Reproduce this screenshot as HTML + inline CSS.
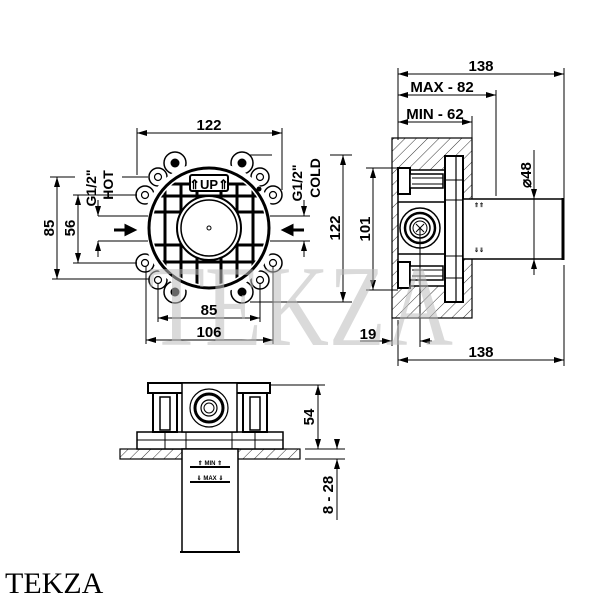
<!DOCTYPE html>
<html><head><meta charset="utf-8"><style>
html,body{margin:0;padding:0;background:#fff;}
svg{display:block;}
text{font-family:"Liberation Sans",Arial,sans-serif;font-weight:bold;fill:#000;}
</style></head><body>
<svg width="600" height="600" viewBox="0 0 600 600" xmlns="http://www.w3.org/2000/svg">
<defs>
<marker id="a" viewBox="0 0 10 6" refX="10" refY="3" markerWidth="10" markerHeight="6" orient="auto-start-reverse" markerUnits="userSpaceOnUse"><path d="M0,0 L10,3 L0,6 z" fill="#000"/></marker>
<pattern id="h" width="8" height="8" patternUnits="userSpaceOnUse" patternTransform="rotate(45)"><line x1="0" y1="0" x2="0" y2="8" stroke="#000" stroke-width="0.8"/></pattern>
<clipPath id="cc"><circle cx="209" cy="228" r="57"/></clipPath>
</defs>

<g stroke="#000" fill="none" stroke-width="1">
<!-- ===== FRONT VIEW ===== -->
<g stroke-width="1.5" fill="#fff">
<circle cx="175" cy="163" r="11"/><circle cx="242" cy="163" r="11"/>
<circle cx="158" cy="177" r="9"/><circle cx="260" cy="177" r="9"/>
<circle cx="145" cy="195" r="9"/><circle cx="273" cy="195" r="9"/>
<circle cx="145" cy="263" r="9"/><circle cx="273" cy="263" r="9"/>
<circle cx="158" cy="280" r="9"/><circle cx="260" cy="280" r="9"/>
<circle cx="175" cy="292" r="11"/><circle cx="242" cy="292" r="11"/>
<circle cx="209" cy="228" r="66" stroke="none"/>
</g>
<g stroke-width="1.2">
<circle cx="158" cy="177" r="3.5"/><circle cx="260" cy="177" r="3.5"/>
<circle cx="145" cy="195" r="3.5"/><circle cx="273" cy="195" r="3.5"/>
<circle cx="145" cy="263" r="3.5"/><circle cx="273" cy="263" r="3.5"/>
<circle cx="158" cy="280" r="3.5"/><circle cx="260" cy="280" r="3.5"/>
</g>
<g fill="#000" stroke="none">
<circle cx="175" cy="163" r="4.5"/><circle cx="242" cy="163" r="4.5"/>
<circle cx="175" cy="292" r="4.5"/><circle cx="242" cy="292" r="4.5"/>
<circle cx="259" cy="189" r="2.5"/>
</g>
<circle cx="209" cy="228" r="60" stroke-width="3"/>
<g clip-path="url(#cc)" stroke-width="3">
<line x1="165" y1="150" x2="165" y2="300"/><line x1="181" y1="185" x2="181" y2="300"/><line x1="197" y1="185" x2="197" y2="300"/>
<line x1="221" y1="185" x2="221" y2="300"/><line x1="237" y1="185" x2="237" y2="300"/><line x1="253" y1="150" x2="253" y2="300"/>
<line x1="140" y1="196" x2="280" y2="196"/><line x1="140" y1="212" x2="280" y2="212"/>
<line x1="140" y1="245" x2="280" y2="245"/><line x1="140" y1="262" x2="280" y2="262"/>
<line x1="140" y1="184" x2="280" y2="184"/>
</g>
<circle cx="209" cy="228" r="32" fill="#fff" stroke-width="2"/>
<circle cx="209" cy="228" r="28" stroke-width="1.5"/>
<circle cx="209" cy="228" r="2"/>
<rect x="190" y="175" width="38" height="16" rx="2" fill="#fff" stroke-width="2"/>
<text x="209" y="189" font-size="13" text-anchor="middle" stroke="none">⇑UP⇑</text>

<path d="M114,230 H126 V226 L134,230 L126,234 V230" fill="#000" stroke-width="3"/>
<path d="M304,230 H292 V226 L284,230 L292,234 V230" fill="#000" stroke-width="3"/>

<line x1="137" y1="133" x2="282" y2="133" marker-start="url(#a)" marker-end="url(#a)"/>
<line x1="137" y1="128" x2="137" y2="175"/><line x1="282" y1="128" x2="282" y2="190"/>
<line x1="250" y1="155" x2="272" y2="155"/>
<line x1="57" y1="177" x2="57" y2="279" marker-start="url(#a)" marker-end="url(#a)"/>
<line x1="50" y1="177" x2="75" y2="177"/><line x1="52" y1="279" x2="150" y2="279"/>
<line x1="78" y1="195" x2="78" y2="263" marker-start="url(#a)" marker-end="url(#a)"/>
<line x1="73" y1="195" x2="137" y2="195"/><line x1="73" y1="263" x2="137" y2="263"/>
<line x1="122" y1="177" x2="148" y2="177"/>
<line x1="98" y1="216" x2="148" y2="216"/><line x1="98" y1="241" x2="148" y2="241"/>
<line x1="98" y1="200" x2="98" y2="216" marker-end="url(#a)"/><line x1="98" y1="257" x2="98" y2="241" marker-end="url(#a)"/>
<line x1="270" y1="216" x2="310" y2="216"/><line x1="270" y1="241" x2="310" y2="241"/>
<line x1="304" y1="200" x2="304" y2="216" marker-end="url(#a)"/><line x1="304" y1="257" x2="304" y2="241" marker-end="url(#a)"/>
<line x1="343" y1="155" x2="343" y2="302" marker-start="url(#a)" marker-end="url(#a)"/>
<line x1="330" y1="155" x2="352" y2="155"/><line x1="250" y1="302" x2="352" y2="302"/>
<line x1="158" y1="318" x2="260" y2="318" marker-start="url(#a)" marker-end="url(#a)"/>
<line x1="158" y1="283" x2="158" y2="322"/><line x1="260" y1="283" x2="260" y2="322"/>
<line x1="146" y1="340" x2="273" y2="340" marker-start="url(#a)" marker-end="url(#a)"/>
<line x1="146" y1="266" x2="146" y2="344"/><line x1="273" y1="266" x2="273" y2="344"/>

<!-- ===== SIDE VIEW ===== -->
<rect x="392" y="138" width="80" height="180" fill="url(#h)" stroke-width="1.2"/>
<rect x="398" y="170" width="47" height="116" fill="#fff" stroke-width="1.5"/>
<rect x="445" y="156" width="18" height="146" fill="#fff" stroke-width="2"/>
<line x1="456" y1="156" x2="456" y2="302" stroke-width="1.2"/>
<line x1="445" y1="180" x2="463" y2="180"/><line x1="445" y1="200" x2="463" y2="200"/>
<line x1="445" y1="256" x2="463" y2="256"/><line x1="445" y1="278" x2="463" y2="278"/>
<rect x="398" y="168" width="12" height="26" fill="#fff" stroke-width="2"/>
<rect x="410" y="174" width="33" height="14" fill="#fff" stroke-width="1.5"/>
<line x1="412" y1="178" x2="443" y2="178"/><line x1="412" y1="184" x2="443" y2="184"/>
<rect x="398" y="262" width="12" height="26" fill="#fff" stroke-width="2"/>
<rect x="410" y="266" width="33" height="14" fill="#fff" stroke-width="1.5"/>
<line x1="412" y1="270" x2="443" y2="270"/><line x1="412" y1="276" x2="443" y2="276"/>
<line x1="398" y1="202" x2="445" y2="202" stroke-width="1.5"/><line x1="398" y1="254" x2="445" y2="254" stroke-width="1.5"/>
<circle cx="420" cy="228" r="20" stroke-width="1.5"/>
<circle cx="420" cy="228" r="15" stroke-width="2.5"/>
<circle cx="420" cy="228" r="10" stroke-width="1.5"/>
<circle cx="420" cy="228" r="7"/>
<line x1="416" y1="224" x2="424" y2="232"/><line x1="424" y1="224" x2="416" y2="232"/>
<line x1="420" y1="228" x2="420" y2="347"/>
<rect x="463" y="199" width="100" height="60" fill="#fff" stroke-width="1.5"/>
<line x1="563" y1="198" x2="563" y2="260" stroke-width="3"/>
<text x="474" y="207" font-size="6" stroke="none">⇑⇑</text>
<text x="474" y="252" font-size="6" stroke="none">⇓⇓</text>
<line x1="398" y1="74" x2="564" y2="74" marker-start="url(#a)" marker-end="url(#a)"/>
<line x1="398" y1="68" x2="398" y2="140"/><line x1="564" y1="68" x2="564" y2="198"/>
<line x1="398" y1="95" x2="496" y2="95" marker-start="url(#a)" marker-end="url(#a)"/>
<line x1="496" y1="90" x2="496" y2="196"/>
<line x1="398" y1="122" x2="472" y2="122" marker-start="url(#a)" marker-end="url(#a)"/>
<line x1="472" y1="116" x2="472" y2="138"/>
<line x1="534" y1="150" x2="534" y2="199" marker-end="url(#a)"/>
<line x1="534" y1="275" x2="534" y2="259" marker-end="url(#a)"/>
<line x1="534" y1="199" x2="534" y2="259"/>
<line x1="373" y1="168" x2="373" y2="290" marker-start="url(#a)" marker-end="url(#a)"/>
<line x1="366" y1="168" x2="398" y2="168"/><line x1="366" y1="290" x2="398" y2="290"/>
<line x1="360" y1="341" x2="392" y2="341" marker-end="url(#a)"/>
<line x1="432" y1="341" x2="420" y2="341" marker-end="url(#a)"/>
<line x1="392" y1="318" x2="392" y2="346"/>
<line x1="398" y1="360" x2="564" y2="360" marker-start="url(#a)" marker-end="url(#a)"/>
<line x1="398" y1="320" x2="398" y2="366"/><line x1="564" y1="265" x2="564" y2="366"/>

<!-- ===== BOTTOM VIEW ===== -->
<rect x="120" y="449" width="180" height="10" fill="url(#h)" stroke-width="1.2"/>
<rect x="137" y="432" width="146" height="17" fill="#fff" stroke-width="1.5"/>
<line x1="137" y1="440" x2="283" y2="440"/>
<line x1="165" y1="432" x2="165" y2="449"/><line x1="186" y1="432" x2="186" y2="449"/><line x1="232" y1="432" x2="232" y2="449"/><line x1="255" y1="432" x2="255" y2="449"/>
<rect x="148" y="383" width="122" height="10" fill="#fff" stroke-width="2"/>
<rect x="153" y="393" width="24" height="39" fill="#fff" stroke-width="2"/>
<rect x="160" y="397" width="10" height="33" stroke-width="1.5"/>
<rect x="243" y="393" width="24" height="39" fill="#fff" stroke-width="2"/>
<rect x="250" y="397" width="10" height="33" stroke-width="1.5"/>
<rect x="182" y="383" width="55" height="49" fill="#fff" stroke-width="1.5"/>
<circle cx="209" cy="408" r="19" stroke-width="1.2"/>
<circle cx="209" cy="408" r="14" stroke-width="3"/>
<circle cx="209" cy="408" r="8" stroke-width="1.2"/>
<circle cx="209" cy="408" r="5"/>
<rect x="182" y="449" width="56" height="103" fill="#fff" stroke-width="1.5"/>
<line x1="180" y1="552" x2="240" y2="552" stroke-width="2"/>
<line x1="190" y1="467" x2="230" y2="467" stroke-width="2"/>
<line x1="190" y1="482" x2="230" y2="482" stroke-width="2"/>
<text x="210" y="465" font-size="6" text-anchor="middle" stroke="none">⇑ MIN ⇑</text>
<text x="210" y="480" font-size="6" text-anchor="middle" stroke="none">⇓ MAX ⇓</text>
<line x1="270" y1="385" x2="325" y2="385"/>
<line x1="305" y1="449" x2="345" y2="449"/><line x1="305" y1="459" x2="345" y2="459"/>
<line x1="318" y1="385" x2="318" y2="449" marker-start="url(#a)" marker-end="url(#a)"/>
<line x1="337" y1="439" x2="337" y2="449" marker-end="url(#a)"/>
<line x1="337" y1="469" x2="337" y2="459" marker-end="url(#a)"/>
<line x1="337" y1="459" x2="337" y2="520"/>
</g>

<!-- watermark (semi-transparent over drawing) -->
<text x="148" y="345" font-size="115" textLength="305" lengthAdjust="spacingAndGlyphs" style="font-family:'Liberation Serif',serif;font-weight:normal;fill:#bbbbbb;fill-opacity:0.55">TEKZA</text>

<text x="209" y="130" font-size="15" text-anchor="middle">122</text>
<text transform="translate(54,228) rotate(-90)" font-size="15" text-anchor="middle">85</text>
<text transform="translate(75,228) rotate(-90)" font-size="15" text-anchor="middle">56</text>
<text transform="translate(96,188) rotate(-90)" font-size="14" text-anchor="middle">G1/2"</text>
<text transform="translate(113,185) rotate(-90)" font-size="14" text-anchor="middle">HOT</text>
<text transform="translate(302,183) rotate(-90)" font-size="14" text-anchor="middle">G1/2"</text>
<text transform="translate(320,178) rotate(-90)" font-size="14" text-anchor="middle">COLD</text>
<text transform="translate(340,228) rotate(-90)" font-size="15" text-anchor="middle">122</text>
<text transform="translate(370,229) rotate(-90)" font-size="15" text-anchor="middle">101</text>
<text x="209" y="315" font-size="15" text-anchor="middle">85</text>
<text x="209" y="337" font-size="15" text-anchor="middle">106</text>
<text x="481" y="71" font-size="15" text-anchor="middle">138</text>
<text x="442" y="92" font-size="15" text-anchor="middle">MAX - 82</text>
<text x="435" y="119" font-size="15" text-anchor="middle">MIN - 62</text>
<text transform="translate(531,175) rotate(-90)" font-size="15" text-anchor="middle">⌀48</text>
<text x="368" y="339" font-size="15" text-anchor="middle">19</text>
<text x="481" y="357" font-size="15" text-anchor="middle">138</text>
<text transform="translate(314,417) rotate(-90)" font-size="15" text-anchor="middle">54</text>
<text transform="translate(333,495) rotate(-90)" font-size="15" text-anchor="middle">8 - 28</text>
<text x="5" y="593" font-size="30" style="font-family:'Liberation Serif',serif;font-weight:normal">TEKZA</text>
</svg>
</body></html>
